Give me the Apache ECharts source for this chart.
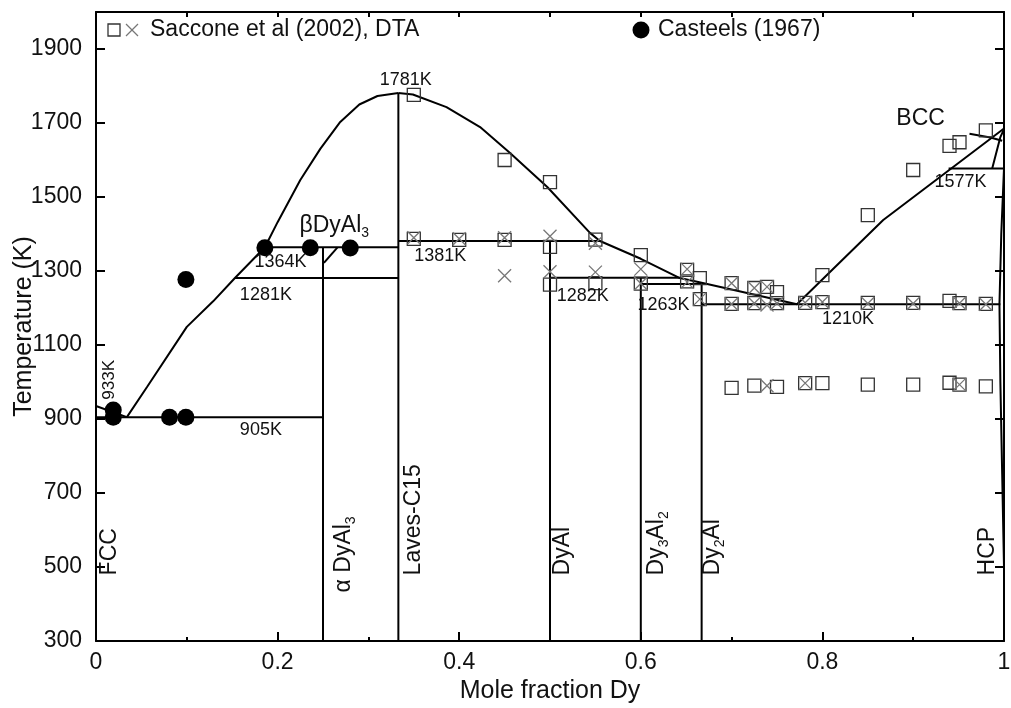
<!DOCTYPE html>
<html>
<head>
<meta charset="utf-8">
<script src="https://cdn.jsdelivr.net/npm/echarts@6/dist/echarts.min.js"></script>
<style>
html,body{margin:0;padding:0;background:#fff;}
#chart{width:1011px;height:708px;}
</style>
</head>
<body>
<div id="chart"></div>
<script>
// ---------- axis ticks ----------
const yTickValues = [300, 500, 700, 900, 1100, 1300, 1500, 1700, 1900];
const xTickValues = [0, 0.2, 0.4, 0.6, 0.8, 1];

// ---------- experimental data ----------
// Saccone et al (2002), DTA : squares
const sacconeSquares = [
  [0.35,1776],[0.45,1600],[0.50,1540],
  [0.35,1387],[0.40,1384],[0.45,1384],[0.50,1365],[0.55,1385],
  [0.50,1263],[0.55,1267],[0.60,1343],[0.60,1266],
  [0.651,1303],[0.651,1272],[0.665,1281],[0.665,1224],
  [0.70,1267],[0.70,1211],[0.725,1254],[0.725,1213],[0.739,1257],[0.75,1243],[0.75,1213],
  [0.781,1214],[0.80,1289],[0.80,1216],[0.85,1214],[0.90,1214],[0.94,1219],[0.951,1213],[0.98,1211],
  [0.70,984],[0.725,990],[0.75,987],[0.781,997],[0.80,997],[0.85,993],[0.90,993],[0.94,998],[0.951,993],[0.98,988],
  [0.85,1451],[0.90,1573],[0.94,1638],[0.951,1648],[0.98,1680]
];
// Saccone et al (2002), DTA : crosses
const sacconeCrosses = [
  [0.35,1390],[0.40,1387],[0.45,1390],[0.50,1394],[0.55,1375],
  [0.45,1287],[0.50,1298],[0.55,1297],[0.60,1305],[0.60,1266],
  [0.651,1305],[0.651,1270],[0.665,1224],[0.70,1267],[0.70,1211],
  [0.725,1254],[0.725,1213],[0.739,1257],[0.739,1208],[0.75,1213],
  [0.781,1214],[0.80,1216],[0.85,1212],[0.90,1212],[0.951,1213],[0.98,1210],
  [0.739,990],[0.781,997],[0.951,993]
];
// Casteels (1967) : filled circles
const casteels = [
  [0.019,924],[0.019,905],[0.081,905],[0.099,905],[0.099,1277],
  [0.186,1363],[0.236,1363],[0.28,1362]
];

// ---------- phase boundaries ----------
const alSolidus933 = [[0,935],[0.034,905]];
const liquidusAlSide = [
  [0.034,905],[0.056,986],[0.1,1149],[0.129,1218],[0.153,1281],[0.186,1364],
  [0.2,1432],[0.225,1546],[0.247,1630],[0.269,1703],[0.29,1750],[0.31,1773],[0.333,1781]
];
const liquidusMiddle = [
  [0.333,1781],[0.349,1777],[0.386,1743],[0.423,1689],[0.456,1619],[0.497,1527],
  [0.544,1403],[0.555,1381],[0.60,1333],[0.643,1281],[0.667,1268],[0.772,1210]
];
const liquidusDySide = [[0.772,1210],[0.867,1438],[1.0,1685]];
const bccSolidus = [[0.962,1671],[0.985,1661],[0.998,1652]];
const bccBoundary = [[0.987,1577],[0.996,1662],[1.0,1683]];
const hcpSolvus = [[1.0,1577],[0.997,1400],[0.995,1210],[0.996,1000],[0.998,750],[1.0,500],[1.0,300]];
const iso905 = [[0,905],[0.25,905]];
const iso1281 = [[0.153,1281],[0.333,1281]];
const iso1364 = [[0.186,1364],[0.333,1364]];
const iso1381 = [[0.333,1381],[0.555,1381]];
const iso1282 = [[0.5,1282],[0.643,1282]];
const iso1263 = [[0.6,1265],[0.667,1265]];
const iso1210 = [[0.667,1210],[0.996,1210]];
const iso1577 = [[0.939,1577],[1.0,1577]];
const lineDyAl3 = [[0.25,300],[0.25,1364]];
const lineBetaDyAl3 = [[0.251,1322],[0.266,1364]];
const lineLaves = [[0.333,300],[0.333,1781]];
const lineDyAl = [[0.5,300],[0.5,1381]];
const lineDy3Al2 = [[0.6,300],[0.6,1282]];
const lineDy2Al = [[0.667,300],[0.667,1265]];

// ---------- text annotations [x, T, text] ----------
const smallLabels = [
  [0.313,1816,'1781K'],[0.175,1322,'1364K'],[0.159,1235,'1281K'],[0.159,868,'905K'],
  [0.351,1340,'1381K'],[0.508,1230,'1282K'],[0.597,1208,'1263K'],[0.80,1168,'1210K'],[0.924,1538,'1577K']
];
const bigLabels = [
  [0.2247,1420,'βDyAl{sub|3}'],[0.882,1711,'BCC']
];
const verticalLabels = [
  [0.0154,476,'FCC'],[0.273,430,'α DyAl{sub|3}'],[0.350,476,'Laves-C15'],[0.514,476,'DyAl'],
  [0.618,476,'Dy{sub|3}Al{sub|2}'],[0.68,476,'Dy{sub|2}Al'],[0.983,476,'HCP']
];
const smallVerticalLabels = [[0.0154,951,'933K']];

const FONT = 'Liberation Sans, Arial, sans-serif';
const chart = echarts.init(document.getElementById('chart'), null, {renderer:'canvas'});

function lineSeries(data){
  return {type:'line', data:data, showSymbol:false, symbol:'none', silent:true,
    lineStyle:{color:'#000', width:2}, z:3, animation:false};
}
const richSub = {
  sub:{fontSize:14, fontFamily:FONT, color:'#111', verticalAlign:'bottom', lineHeight:12}
};
function labelSeries(arr, size, rotate){
  return {type:'scatter', symbolSize:1, silent:true, animation:false, z:6,
    itemStyle:{color:'rgba(0,0,0,0)', opacity:1},
    data: arr.map(a => ({value:[a[0],a[1]], label:{formatter:a[2]}})),
    label:{show:true, position:[0,0], align:'left', verticalAlign:'middle', opacity:1,
      rotate: rotate ? 90 : 0, fontSize:size, fontFamily:FONT, color:'#111',
      lineHeight: size+6, rich:richSub}
  };
}

const lines = [alSolidus933, liquidusAlSide, liquidusMiddle, liquidusDySide, bccSolidus, bccBoundary,
  hcpSolvus, iso905, iso1281, iso1364, iso1381, iso1282, iso1263, iso1210, iso1577,
  lineDyAl3, lineBetaDyAl3, lineLaves, lineDyAl, lineDy3Al2, lineDy2Al];

const option = {
  animation:false,
  backgroundColor:'#fff',
  grid:{left:96, right:7, top:12, bottom:67, containLabel:false, outerBoundsMode:'none'},
  xAxis:[
    {type:'value', min:0, max:1, interval:0.2, position:'bottom',
     name:'Mole fraction Dy', nameLocation:'middle', nameGap:38, nameMoveOverlap:false,
     nameTextStyle:{fontSize:25, fontFamily:FONT, color:'#111'},
     axisLine:{show:true, onZero:false, lineStyle:{color:'#000', width:2}},
     axisTick:{show:true, inside:true, length:9, lineStyle:{color:'#000', width:2}},
     minorTick:{show:true, splitNumber:2, length:4, lineStyle:{color:'#000', width:2}},
     axisLabel:{fontSize:23, fontFamily:FONT, color:'#111', margin:10,
       formatter: v => String(Math.round(v*10)/10)},
     splitLine:{show:false}},
    {type:'value', min:0, max:1, interval:0.1, position:'top',
     axisLine:{show:true, onZero:false, lineStyle:{color:'#000', width:2}},
     axisTick:{show:true, inside:true, length:5, lineStyle:{color:'#000', width:2}},
     axisLabel:{show:false}, splitLine:{show:false}}
  ],
  yAxis:[
    {type:'value', min:300, max:2000, position:'left',
     name:'Temperature (K)', nameLocation:'middle', nameGap:72, nameMoveOverlap:false,
     nameTextStyle:{fontSize:25, fontFamily:FONT, color:'#111', verticalAlign:'middle'},
     axisLine:{show:true, onZero:false, lineStyle:{color:'#000', width:2}},
     axisTick:{show:true, inside:true, length:9, customValues:yTickValues, lineStyle:{color:'#000', width:2}},
     axisLabel:{fontSize:23, fontFamily:FONT, color:'#111', margin:14, customValues:yTickValues,
       formatter: v => String(v)},
     splitLine:{show:false}},
    {type:'value', min:300, max:2000, position:'right',
     axisLine:{show:true, onZero:false, lineStyle:{color:'#000', width:2}},
     axisTick:{show:true, inside:true, length:9, customValues:yTickValues, lineStyle:{color:'#000', width:2}},
     axisLabel:{show:false}, splitLine:{show:false}}
  ],
  series: [
    ...lines.map(lineSeries),
    {type:'scatter', name:'squares', data:sacconeSquares, symbol:'rect', symbolSize:13, silent:true, z:4,
     itemStyle:{color:'rgba(255,255,255,0)', borderColor:'#333', borderWidth:1.3, opacity:1}},
    {type:'scatter', name:'crosses', data:sacconeCrosses, symbol:'path://M0,0L10,10M10,0L0,10', symbolSize:13, silent:true, z:4,
     itemStyle:{color:'none', borderColor:'#777', borderWidth:1.3, opacity:1}},
    {type:'scatter', name:'Casteels', data:casteels, symbol:'circle', symbolSize:17, silent:true, z:5,
     itemStyle:{color:'#000', opacity:1}},
    labelSeries(smallLabels, 18, false),
    labelSeries(bigLabels, 23, false),
    labelSeries(verticalLabels, 23, true),
    labelSeries(smallVerticalLabels, 17, true)
  ],
  graphic:[
    {type:'rect', shape:{x:108,y:24,width:12,height:12}, style:{fill:'none', stroke:'#333', lineWidth:1.3}, z:10},
    {type:'line', shape:{x1:126,y1:24,x2:138,y2:36}, style:{stroke:'#777', lineWidth:1.3}, z:10},
    {type:'line', shape:{x1:138,y1:24,x2:126,y2:36}, style:{stroke:'#777', lineWidth:1.3}, z:10},
    {type:'text', x:150, y:30, style:{text:'Saccone et al (2002), DTA', font:'23px '+FONT, fill:'#111', textVerticalAlign:'middle', verticalAlign:'middle'}, z:10},
    {type:'circle', shape:{cx:641, cy:30, r:8.5}, style:{fill:'#000'}, z:10},
    {type:'text', x:658, y:30, style:{text:'Casteels (1967)', font:'23px '+FONT, fill:'#111', textVerticalAlign:'middle', verticalAlign:'middle'}, z:10}
  ]
};
chart.setOption(option);
</script>
</body>
</html>
